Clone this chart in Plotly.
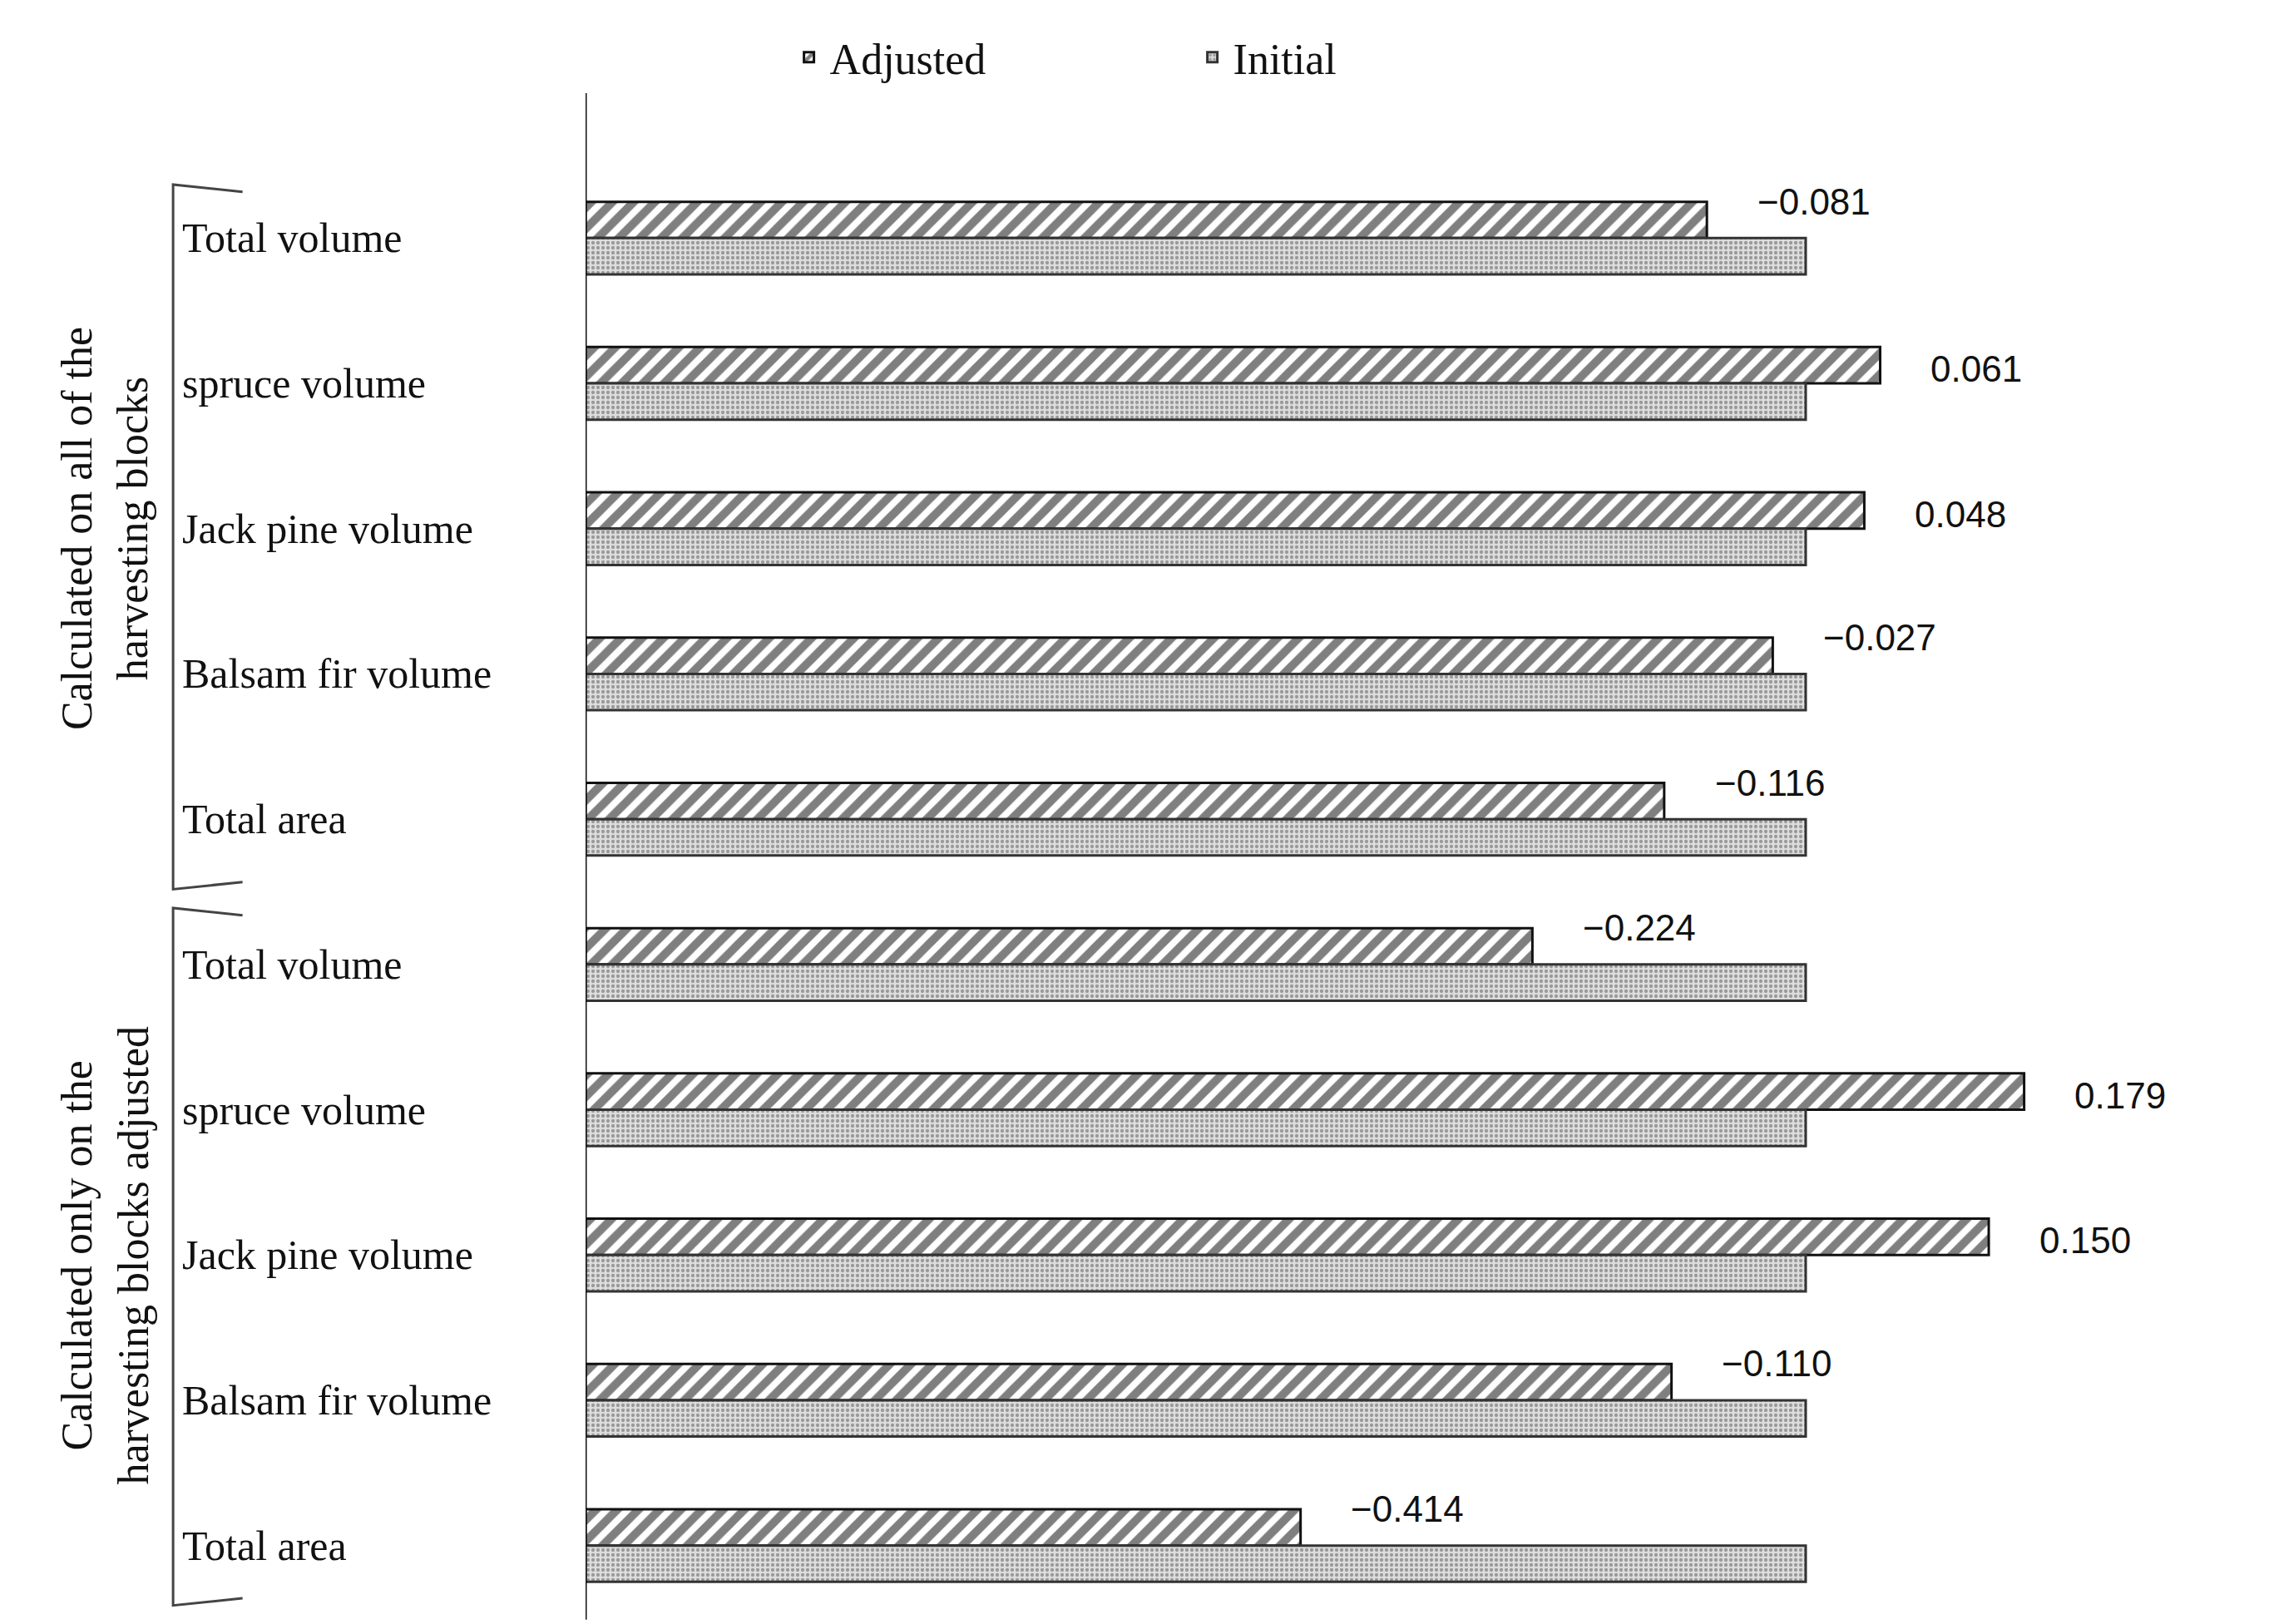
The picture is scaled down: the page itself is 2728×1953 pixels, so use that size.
import plotly.graph_objects as go

categories = ["Total volume", "spruce volume", "Jack pine volume", "Balsam fir volume", "Total area",
              "Total volume", "spruce volume", "Jack pine volume", "Balsam fir volume", "Total area"]
differences = [-0.081, 0.061, 0.048, -0.027, -0.116, -0.224, 0.179, 0.150, -0.110, -0.414]
initial = [1.0] * 10
adjusted = [1.0 + d for d in differences]
diff_labels = ["\u2212%.3f" % abs(d) if d < 0 else "%.3f" % d for d in differences]
groups = ["Calculated on all of the<br>harvesting blocks",
          "Calculated only on the<br>harvesting blocks adjusted"]
group_centers = [2, 7]

W, H = 2728, 1953
L, R, T, B = 696, 20, 191, 22
S = 1.74
def px(xd): return (xd * S - L) / (W - L - R)
def py(yd): return (H - B - yd * S) / (H - T - B)

ypos = list(range(10))
fig = go.Figure()
fig.add_trace(go.Bar(name="Adjusted", y=ypos, x=adjusted, orientation="h",
    marker=dict(color="white", line=dict(color="#111", width=3),
                pattern=dict(shape="/", fgcolor="#000", bgcolor="white", size=18, solidity=0.55))))
fig.add_trace(go.Bar(name="Initial", y=ypos, x=initial, orientation="h",
    marker=dict(color="white", line=dict(color="#333", width=3),
                pattern=dict(shape=".", fgcolor="#555", bgcolor="#ddd", size=6, solidity=0.4))))

ann = []
for i, c in enumerate(categories):
    ann.append(dict(x=px(120), y=i, xref="paper", yref="y", text=c, showarrow=False,
                    xanchor="left", font=dict(family="Liberation Serif", size=50, color="#111")))
    xa = adjusted[i] + 0.04
    ann.append(dict(x=xa, y=i - 0.1, xref="x", yref="y", text=diff_labels[i], showarrow=False,
                    xanchor="left", yanchor="bottom" if differences[i] < 0 else "middle",
                    font=dict(family="Liberation Sans", size=44, color="#111")))
for g in range(2):
    ann.append(dict(x=px(68), y=group_centers[g], xref="paper", yref="y", text=groups[g],
                    xanchor="center", yanchor="middle",
                    showarrow=False, textangle=-90, font=dict(family="Liberation Serif", size=52, color="#111")))

shapes = []
for (y0, y1) in [(128, 605), (628, 1100)]:
    x0, x1 = px(115), px(163)
    shapes.append(dict(type="path", xref="paper", yref="paper",
        path=f"M {x1} {py(y0)} L {x0} {py(y0)+0.005} L {x0} {py(y1)-0.005} L {x1} {py(y1)}",
        line=dict(color="#444", width=3)))

fig.update_layout(
    width=W, height=H, plot_bgcolor="white", paper_bgcolor="white",
    margin=dict(l=L, r=R, t=T, b=B),
    barmode="group", bargap=0.5, bargroupgap=0,
    xaxis=dict(range=[0, (W - L - R) / (2163 - L)], visible=False),
    yaxis=dict(range=[9.46, -0.5], showticklabels=False, showgrid=False, zeroline=False,
               showline=False),
    legend=dict(orientation="h", x=px(540), y=1 + (T - 61) / (H - T - B), xanchor="left", yanchor="middle",
                font=dict(family="Liberation Serif", size=52, color="#111"),
                itemwidth=40, entrywidth=430),
    annotations=ann, shapes=shapes + [dict(type="line", xref="x", yref="paper", x0=0, x1=0, y0=-0.005, y1=1.05,
                                           line=dict(color="#111", width=3))],
)
fig.write_html("out.html")
